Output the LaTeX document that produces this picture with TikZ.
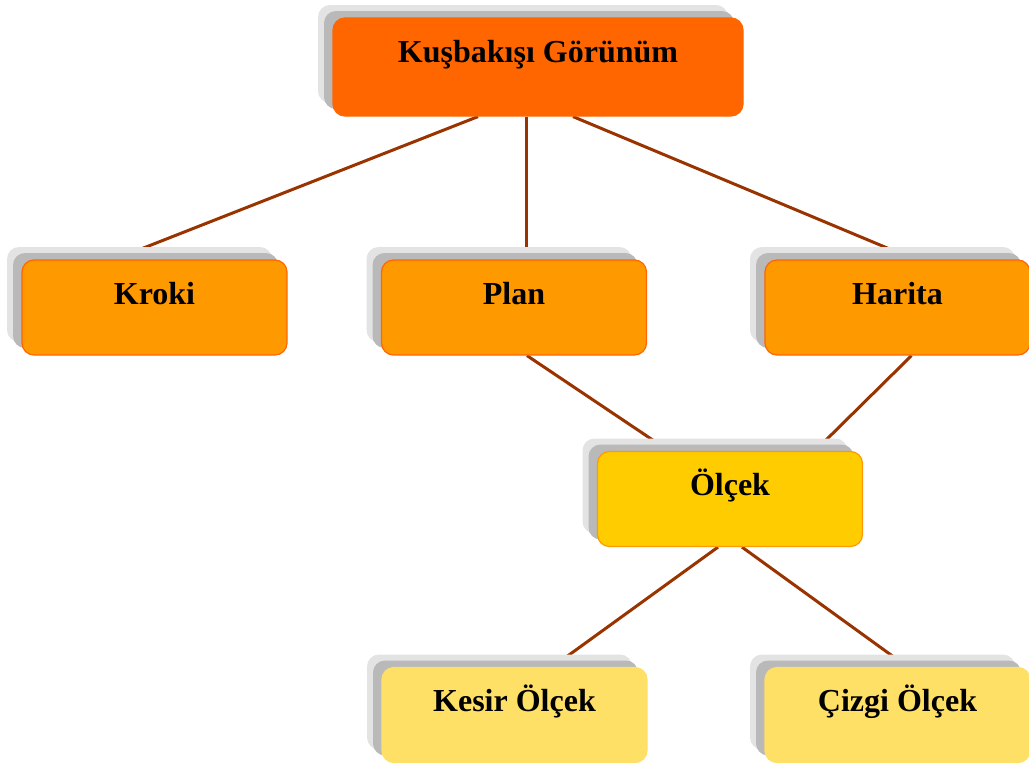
\documentclass[tikz,border=0pt]{standalone}
\usepackage{fontspec}
\setmainfont{Liberation Serif}
\usetikzlibrary{shadows}
\usetikzlibrary{backgrounds}

\definecolor{topfill}{HTML}{FF6600}
\definecolor{midfill}{HTML}{FF9900}
\definecolor{olcfill}{HTML}{FFCC00}
\definecolor{botfill}{HTML}{FFE066}
\definecolor{linkcol}{HTML}{993300}

\tikzset{
  box/.style={rectangle, rounded corners=12pt, inner sep=0pt, line width=1.2pt,
    minimum width=265pt, text height=44pt, text depth=51pt,
    font=\fontsize{32}{38}\selectfont\bfseries,
    general shadow={shadow xshift=-15pt, shadow yshift=13pt, fill=gray!22},
    general shadow={shadow xshift=-9pt, shadow yshift=7pt, fill=gray!55}},
  link/.style={linkcol, line width=3pt}
}

\begin{document}
\begin{tikzpicture}[x=1pt,y=1pt]
                    \useasboundingbox (0,0) rectangle (1029,-763);
                    \node[box, fill=topfill, draw=topfill, minimum width=410pt, text depth=54pt]
                        (top) at (538,-67) {Kuşbakışı Görünüm};
                    \node[box, fill=midfill, draw=topfill] (kroki) at (154.5,-307.5) {Kroki};
                    \node[box, fill=midfill, draw=topfill] (plan) at (514,-307.5) {Plan};
                    \node[box, fill=midfill, draw=topfill] (harita) at (897.5,-307.5) {Harita};
                    \node[box, fill=olcfill, draw=midfill] (olcek) at (730,-499) {Ölçek};
                    \node[box, fill=botfill, draw=botfill] (kesir) at (514.5,-715) {Kesir Ölçek};
                    \node[box, fill=botfill, draw=botfill] (cizgi) at (897.5,-715) {Çizgi Ölçek};
                    \begin{scope}[on background layer]
                        \draw[link] ([xshift=-60pt]top.south) -- ([xshift=-40pt]kroki.north);
                        \draw[link] ([xshift=-12pt]top.south) -- ([xshift=12pt]plan.north);
                        \draw[link] ([xshift=35pt]top.south) -- ([xshift=17pt]harita.north);
                        \draw[link] ([xshift=13pt]plan.south) -- ([xshift=-61pt]olcek.north);
                        \draw[link] ([xshift=14pt]harita.south) -- ([xshift=85pt]olcek.north);
                        \draw[link] ([xshift=-12pt]olcek.south) -- ([xshift=38pt]kesir.north);
                        \draw[link] ([xshift=12pt]olcek.south) -- ([xshift=10pt]cizgi.north);
                    \end{scope}
                \end{tikzpicture}
\end{document}
